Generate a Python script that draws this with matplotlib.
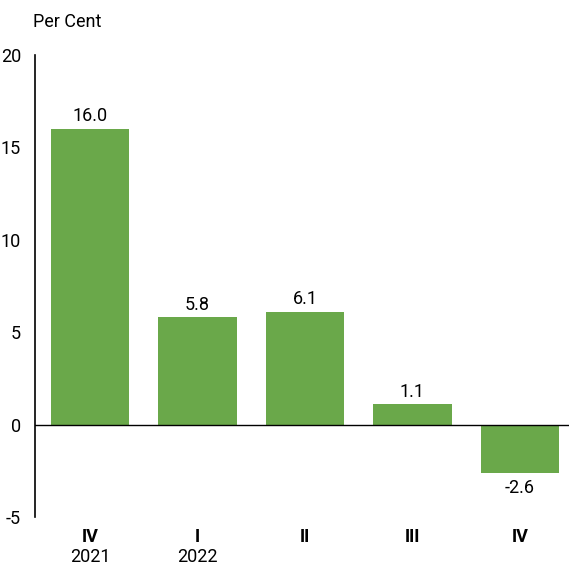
import matplotlib.pyplot as plt

plt.rcParams['font.family'] = ['Roboto', 'DejaVu Sans']

quarters = ['IV', 'I', 'II', 'III', 'IV']
years = ['2021', '2022', '', '', '']
values = [16.0, 5.8, 6.1, 1.1, -2.6]
labels = ['16.0', '5.8', '6.1', '1.1', '-2.6']
yticks = [-5, 0, 5, 10, 15, 20]

green = '#6aa84a'

fig = plt.figure(figsize=(5.69, 5.66), dpi=100)
ax = fig.add_axes([0.0615, 0.0866, 0.9385, 0.8165])

x = list(range(len(values)))
ax.bar(x, values, width=0.726, color=green, zorder=2)

ax.set_xlim(-0.512, 4.456)
ax.set_ylim(-5, 20)
ax.axhline(0, color='black', linewidth=1, zorder=3)

for s in ['top', 'right', 'bottom']:
    ax.spines[s].set_visible(False)
ax.spines['left'].set_linewidth(1.2)

ax.set_yticks(yticks)
ax.set_yticklabels([str(t) for t in yticks], fontsize=13)
ax.tick_params(axis='y', length=0, pad=10)
ax.set_xticks([])

for xi, v, lab in zip(x, values, labels):
    if v >= 0:
        ax.text(xi, v + 0.2, lab, ha='center', va='bottom', fontsize=13)
    else:
        ax.text(xi, v - 0.35, lab, ha='center', va='top', fontsize=13)

trans = ax.get_xaxis_transform()
for xi, q, yr in zip(x, quarters, years):
    ax.text(xi, -0.0435, q, ha='center', va='center', fontsize=13,
            fontweight='bold', transform=trans)
    if yr:
        ax.text(xi, -0.086, yr, ha='center', va='center', fontsize=13,
                transform=trans)

fig.text(0.058, 0.962, 'Per Cent', ha='left', va='center', fontsize=13)

fig.savefig('out.png', dpi=100)
